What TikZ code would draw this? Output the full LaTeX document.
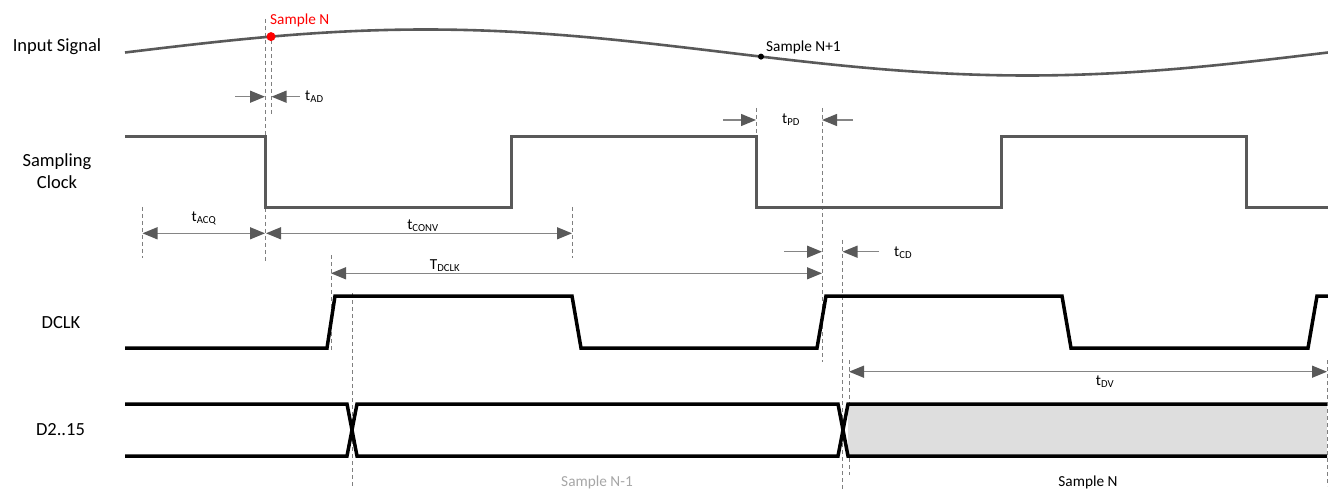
\documentclass[tikz,border=0pt]{standalone}
\usepackage{fontspec}
\setmainfont{Carlito}
\usetikzlibrary{arrows.meta}
\definecolor{sig}{HTML}{595959}
\definecolor{arr}{HTML}{858585}
\definecolor{guidecol}{HTML}{7F7F7F}
\definecolor{busfill}{HTML}{DEDEDE}
\definecolor{lightlbl}{HTML}{A6A6A6}
\definecolor{samp}{HTML}{FF0000}
\begin{document}
\begin{tikzpicture}[x=1pt,y=-1pt,
  siglabel/.style={font=\fontsize{18.5}{22}\selectfont, align=center, inner sep=0pt},
  small/.style={font=\fontsize{15.3}{18}\selectfont, inner sep=0pt},
  tlabel/.style={font=\fontsize{15.3}{18}\selectfont, inner sep=1pt},
  guide/.style={draw=guidecol, line width=0.9pt, dash pattern=on 4pt off 3pt},
  clk/.style={draw=sig, line width=3pt, line join=miter},
  dig/.style={draw=black, line width=3.5pt, line join=miter},
  dim/.style={draw=arr, line width=1.3pt, {Triangle[length=15pt,width=12pt,color=sig]}-{Triangle[length=15pt,width=12pt,color=sig]}},
  onearrow/.style={draw=arr, line width=1.3pt, -{Triangle[length=15pt,width=12pt,color=sig]}},
]
\useasboundingbox (0,0) rectangle (1328,489);

% signal names
\node[siglabel, anchor=base] (lin) at (57,52) {Input Signal};
\node[siglabel, anchor=base] (lclk) at (57,189) {Sampling\\Clock};
\node[siglabel, anchor=base] (ldclk) at (61,328) {DCLK};
\node[siglabel, anchor=base] (ldata) at (60.5,435) {D2..15};

% guide lines
\draw[guide] (265.5,19) -- (265.5,262);
\draw[guide] (271,40) -- (271,115);
\draw[guide] (142.5,207) -- (142.5,258);
\draw[guide] (572,207) -- (572,258);
\draw[guide] (331,255) -- (331,350);
\draw[guide] (352,293) -- (352,489);
\draw[guide] (756,108) -- (756,137);
\draw[guide] (822,108) -- (822,362);
\draw[guide] (842.5,240) -- (842.5,489);
\draw[guide] (849,360) -- (849,475);
\draw[guide] (1327,360) -- (1327,486);

% input signal
\draw[sig, line width=2.6pt] plot[domain=125:1328, samples=150] (\x, {52.5 - 23*sin((\x-125)/1203*360)});
\coordinate (sN) at (271, {52.5 - 23*sin((271-125)/1203*360)});
\coordinate (sN1) at (761, {52.5 - 23*sin((761-125)/1203*360)});
\fill[samp] (sN) circle (4.5pt);
\fill[black] (sN1) circle (3pt);
\node[small, text=samp, anchor=base west] (tsN) at (270,25) {Sample N};
\node[small, anchor=base west] (tsN1) at (766,51.5) {Sample N+1};

% sampling clock
\draw[clk] (125,137) -- (265,137) -- (265,208) -- (511,208) -- (511,137) -- (756,137) -- (756,208) -- (1001,208) -- (1001,137) -- (1246,137) -- (1246,208) -- (1328,208);

% DCLK
\draw[dig] (125,348) -- (327,348) -- (335,296) -- (572,296) -- (581,348) -- (817,348) -- (826,296) -- (1062,296) -- (1071,348) -- (1308,348) -- (1317,296) -- (1328,296);

% data bus
\fill[busfill] (848,404) rectangle (1327,456);
\draw[dig] (125,404) -- (347,404) -- (357,456) -- (838,456) -- (848,404) -- (1327,404);
\draw[dig] (125,456) -- (347,456) -- (357,404) -- (838,404) -- (848,456) -- (1327,456);
\node[small, text=lightlbl, anchor=base] (sNm1) at (597,486) {Sample N-1};
\node[small, anchor=base] (sNd) at (1088,486) {Sample N};

% tAD
\coordinate (adA) at (235,96.7); \coordinate (adB) at (265,96.7);
\coordinate (adC) at (300,96.7); \coordinate (adD) at (271.5,96.7);
\draw[onearrow] (adA) -- (adB);
\draw[onearrow] (adC) -- (adD);
\node[tlabel, anchor=west] (lAD) at (304,96.7) {t\textsubscript{AD}};

% tPD
\coordinate (pdA) at (723,120); \coordinate (pdB) at (756,120);
\coordinate (pdC) at (853,120); \coordinate (pdD) at (822,120);
\draw[onearrow] (pdA) -- (pdB);
\draw[onearrow] (pdC) -- (pdD);
\node[tlabel] (lPD) at (791,120) {t\textsubscript{PD}};

% tACQ, tCONV
\coordinate (acqA) at (142.5,233.3); \coordinate (acqB) at (265,233.3);
\coordinate (cvA) at (266,233.3); \coordinate (cvB) at (572,233.3);
\draw[dim] (acqA) -- (acqB);
\draw[dim] (cvA) -- (cvB);
\node[tlabel] (lACQ) at (204,218) {t\textsubscript{ACQ}};
\node[tlabel] (lCONV) at (423,226) {t\textsubscript{CONV}};

% TDCLK
\coordinate (dkA) at (331,273.3); \coordinate (dkB) at (822,273.3);
\draw[dim] (dkA) -- (dkB);
\node[tlabel] (lDCLK) at (445,266) {T\textsubscript{DCLK}};

% tCD
\coordinate (cdA) at (784,251.7); \coordinate (cdB) at (822,251.7);
\coordinate (cdC) at (879,251.7); \coordinate (cdD) at (842.5,251.7);
\draw[onearrow] (cdA) -- (cdB);
\draw[onearrow] (cdC) -- (cdD);
\node[tlabel, anchor=west] (lCD) at (893,252.5) {t\textsubscript{CD}};

% tDV
\coordinate (dvA) at (849,371.7); \coordinate (dvB) at (1327,371.7);
\draw[dim] (dvA) -- (dvB);
\node[tlabel] (lDV) at (1105,382) {t\textsubscript{DV}};
\end{tikzpicture}
\end{document}
